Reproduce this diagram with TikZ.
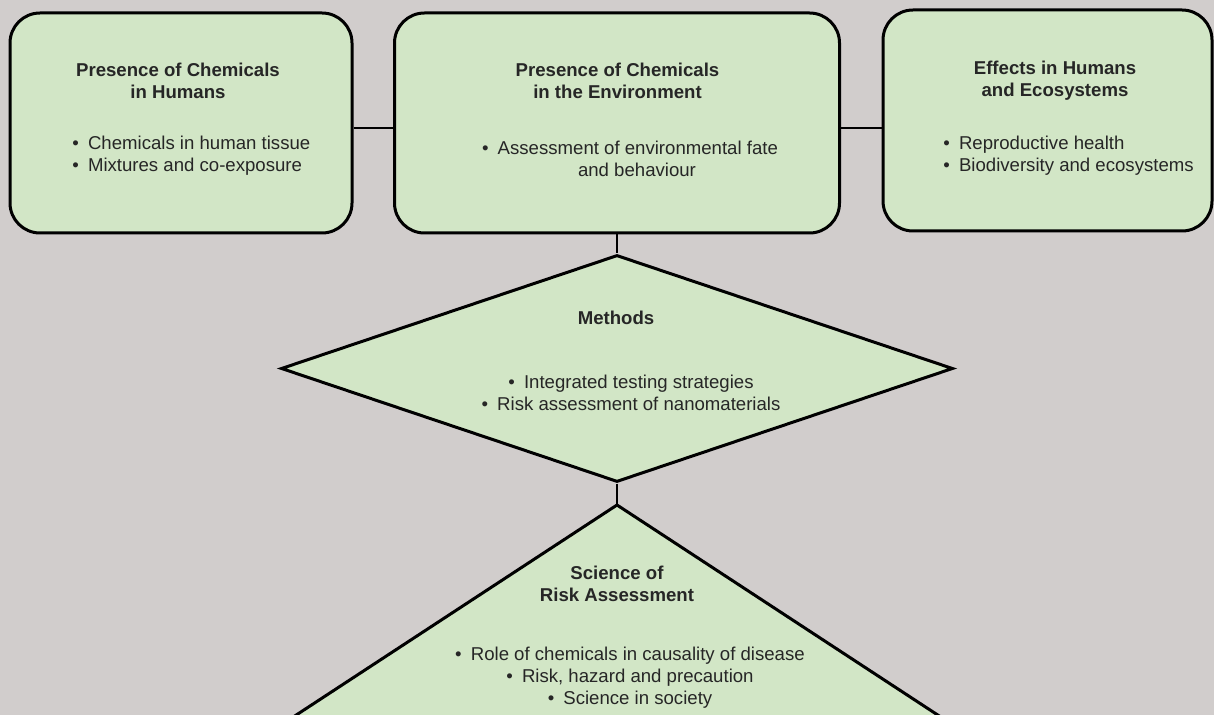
\documentclass[tikz,border=0pt]{standalone}
\usepackage{fontspec}
\setmainfont{Liberation Sans}
\usetikzlibrary{shapes.geometric}
\definecolor{bgcol}{HTML}{D1CDCC}
\definecolor{boxcol}{HTML}{D2E6C6}
\definecolor{txtcol}{HTML}{262626}
\newcommand\bul{•\hspace{0.49em}}
\tikzset{>=stealth,
  topic/.style={draw, line width=1.5pt, fill=boxcol, rounded corners=15pt, inner sep=0pt},
  link/.style={line width=1.4pt},
  head/.style={font=\bfseries\fontsize{9.3}{11}\selectfont, text=txtcol, align=center, inner sep=0pt},
  items/.style={font=\fontsize{9.3}{11}\selectfont, text=txtcol, inner sep=0pt}
}

\begin{document}
\begin{tikzpicture}[x=0.5pt,y=-0.5pt]
\useasboundingbox (0,0) rectangle (1214,715);
\clip (0,0) rectangle (1214,715);
\fill[bgcol] (0,0) rectangle (1214,715);
\node[topic, minimum width=171pt, minimum height=110pt] (hum) at (181,123) {};
\node[topic, minimum width=222.5pt, minimum height=110pt] (env) at (617,123) {};
\node[topic, minimum width=164.5pt, minimum height=110.5pt] (eff) at (1047.5,120.5) {};
\node[diamond, draw, line width=1.5pt, fill=boxcol, inner sep=0pt, minimum width=336pt, minimum height=113.5pt] (meth) at (617,368.5) {};
\coordinate (apex) at (617,505);
\draw[line width=1.5pt, fill=boxcol] (apex) -- ++(-420,275) -- ++(840,0) -- cycle;
\draw[link] ([yshift=-2.5pt]hum.east) -- ([yshift=-2.5pt]env.west);
\draw[link] ([yshift=-2.5pt]env.east) -- ([yshift=-2.5pt]env.east -| eff.west);
\draw[link] (env.south) -- (meth.north);
\draw[link] (meth.south) -- (apex);
\node[head] (humT) at (178,81) {Presence of Chemicals\\in Humans};
\node[items, align=left, anchor=west] (humL) at (72,155.5) {\bul Chemicals in human tissue\\\bul Mixtures and co-exposure};
\node[head] (envT) at (617.5,81) {Presence of Chemicals\\in the Environment};
\node[items, align=center] (envL) at (630,158.5) {\bul Assessment of environmental fate\\\hspace*{7pt}and behaviour};
\node[head] (effT) at (1055,81) {Effects in Humans\\and Ecosystems};
\node[items, align=left, anchor=west] (effL) at (943,155.5) {\bul Reproductive health\\\bul Biodiversity and ecosystems};
\node[head] (methT) at (616,318) {Methods};
\node[items, align=center] (methL) at (631,393) {\bul Integrated testing strategies\\\bul Risk assessment of nanomaterials};
\node[head] (sciT) at (617,583.5) {Science of\\Risk Assessment};
\node[items, align=center] (sciL) at (630,678) {\bul Role of chemicals in causality of disease\\\bul Risk, hazard and precaution\\\bul Science in society};
\end{tikzpicture}
\end{document}
